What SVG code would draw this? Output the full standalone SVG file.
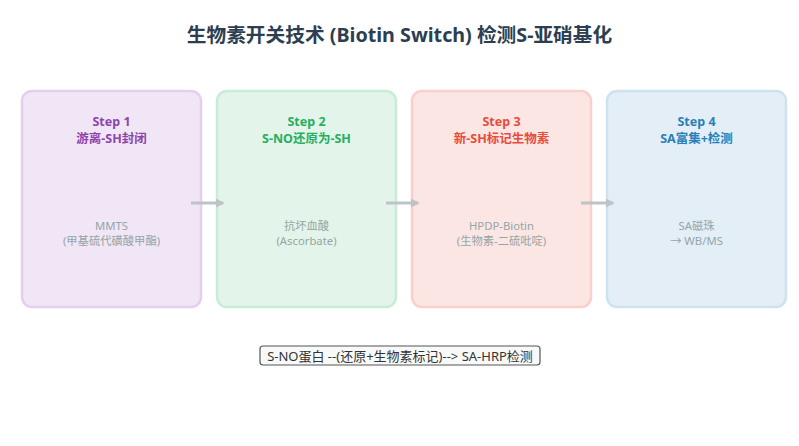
<svg xmlns="http://www.w3.org/2000/svg" width="799" height="446" viewBox="0 0 799 446">
<defs>
<style>
text{font-family:"Noto Sans","Noto Sans CJK SC",sans-serif;text-anchor:middle}
.title{font-size:19.7px;font-weight:bold;fill:#2c3e50}
.st{font-size:12.5px;font-weight:bold}
.body{font-size:11.3px;fill:#95a5a6}
.box{stroke-width:2.5}
.conn{stroke:#bdc3c7;stroke-width:3;fill:none;marker-end:url(#ah)}
</style>
<marker id="ah" viewBox="0 0 10 10" refX="8" refY="5" markerWidth="3" markerHeight="3" orient="auto">
<path d="M0,0 L10,5 L0,10 z" fill="#bdc3c7"/>
</marker>
</defs>
<rect width="799" height="446" fill="#ffffff"/>
<text class="title" x="399.5" y="42">生物素开关技术 (Biotin Switch) 检测S-亚硝基化</text>
<g id="step1">
<rect class="box" x="22" y="91" width="179" height="216" rx="10" fill="#f0e6f5" stroke="#e4d0ee"/>
<text class="st" x="111.5" y="126" fill="#8e44ad">Step 1</text>
<text class="st" x="111.5" y="143" fill="#8e44ad">游离-SH封闭</text>
<text class="body" x="111.5" y="229.5">MMTS</text>
<text class="body" x="111.5" y="244.5">(甲基硫代磺酸甲酯)</text>
</g>
<g id="step2">
<rect class="box" x="217" y="91" width="179" height="216" rx="10" fill="#e3f5ea" stroke="#c9ecd6"/>
<text class="st" x="306.5" y="126" fill="#27ae60">Step 2</text>
<text class="st" x="306.5" y="143" fill="#27ae60">S-NO还原为-SH</text>
<text class="body" x="306.5" y="229.5">抗坏血酸</text>
<text class="body" x="306.5" y="244.5">(Ascorbate)</text>
</g>
<g id="step3">
<rect class="box" x="412" y="91" width="179" height="216" rx="10" fill="#fce6e4" stroke="#f9d0cc"/>
<text class="st" x="501.5" y="126" fill="#e74c3c">Step 3</text>
<text class="st" x="501.5" y="143" fill="#e74c3c">新-SH标记生物素</text>
<text class="body" x="501.5" y="229.5">HPDP-Biotin</text>
<text class="body" x="501.5" y="244.5">(生物素-二硫吡啶)</text>
</g>
<g id="step4">
<rect class="box" x="607" y="91" width="179" height="216" rx="10" fill="#e3eef6" stroke="#cfe2f0"/>
<text class="st" x="696.5" y="126" fill="#2980b9">Step 4</text>
<text class="st" x="696.5" y="143" fill="#2980b9">SA富集+检测</text>
<text class="body" x="696.5" y="229.5">SA磁珠</text>
<text class="body" x="696.5" y="244.5">→ WB/MS</text>
</g>
<g id="connectors">
<line class="conn" x1="191" y1="203" x2="223" y2="203"/>
<line class="conn" x1="386" y1="203" x2="418" y2="203"/>
<line class="conn" x1="581" y1="203" x2="613" y2="203"/>
</g>
<g id="note">
<rect x="260" y="346" width="280" height="19" rx="3" fill="#f8f9f9" stroke="#555555" stroke-width="1.2"/>
<text x="400" y="360.5" style="font-size:13px;fill:#333333">S-NO蛋白 --(还原+生物素标记)--&gt; SA-HRP检测</text>
</g>
</svg>
